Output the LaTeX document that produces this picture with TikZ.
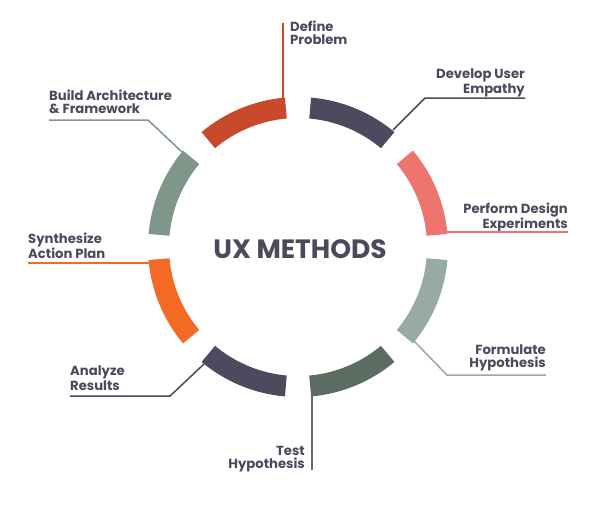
\documentclass[tikz,border=0pt]{standalone}
\usepackage{fontspec}
\setmainfont{Poppins}
\definecolor{defineC}{HTML}{C8492A}
\definecolor{slate}{HTML}{4B4A5F}
\definecolor{salmon}{HTML}{EE7470}
\definecolor{formC}{HTML}{98AAA5}
\definecolor{testC}{HTML}{5B6C62}
\definecolor{synthC}{HTML}{F26A24}
\definecolor{buildC}{HTML}{7F978B}
\definecolor{txt}{HTML}{4A4A5C}
\tikzset{
  lead/.style={draw=#1, line width=1.5pt},
  lbl/.style={inner sep=0pt, font=\bfseries\fontsize{13.2}{13}\selectfont, text=txt},
  title/.style={inner sep=0pt, font=\bfseries\fontsize{26.5}{28}\selectfont, text=txt}
}
\begin{document}
\begin{tikzpicture}[x=1pt,y=1pt]
\useasboundingbox (0,0) rectangle (609,-507);
\fill[white] (0,0) rectangle (609,-507);
\begin{scope}[shift={(298,-247)}]
\foreach \a/\b/\c in {95/130/defineC, 50/85/slate, 5/40/salmon, -40/-5/formC, -85/-50/testC, -130/-95/slate, 185/220/synthC, 140/175/buildC}
  \fill[\c] (\a:150) arc[start angle=\a, end angle=\b, radius=150] -- (\b:129) arc[start angle=\b, end angle=\a, radius=129] -- cycle;
\end{scope}
% title
\node[title] (ux) at (300,-249) {UX METHODS};
% labels
\node[lbl, anchor=north west, align=left] (tDef) at (290,-21) {Define\\Problem};
\node[lbl, anchor=north east, align=right] (tDev) at (525,-69) {Develop User\\Empathy};
\node[lbl, anchor=north east, align=right] (tPer) at (568,-203) {Perform Design\\Experiments};
\node[lbl, anchor=north east, align=right] (tFor) at (546,-345) {Formulate\\Hypothesis};
\node[lbl, anchor=north east, align=right] (tTest) at (305,-446) {Test\\Hypothesis};
\node[lbl, anchor=north west, align=left] (tAna) at (70,-366) {Analyze\\Results};
\node[lbl, anchor=north west, align=left] (tSyn) at (28,-233) {Synthesize\\Action Plan};
\node[lbl, anchor=north west, align=left] (tBld) at (49,-90) {Build Architecture\\\& Framework};
% leader coordinates
\coordinate (def0) at (283,-115); \coordinate (def1) at (283,-23);
\coordinate (dev0) at (393,-130); \coordinate (dev1) at (425,-98); \coordinate (dev2) at (525,-98);
\coordinate (per0) at (446,-232); \coordinate (per1) at (568,-232);
\coordinate (for0) at (414,-341); \coordinate (for1) at (447,-375); \coordinate (for2) at (546,-375);
\coordinate (test0) at (312,-392); \coordinate (test1) at (312,-470);
\coordinate (ana0) at (204,-364); \coordinate (ana1) at (170,-396); \coordinate (ana2) at (70,-396);
\coordinate (syn0) at (150,-263); \coordinate (syn1) at (28,-263);
\coordinate (bld0) at (183,-153); \coordinate (bld1) at (148,-120); \coordinate (bld2) at (49,-120);
\draw[lead=defineC] (def0) -- (def1);
\draw[lead=slate] (dev0) -- (dev1) -- (dev2);
\draw[lead=salmon] (per0) -- (per1);
\draw[lead=formC] (for0) -- (for1) -- (for2);
\draw[lead=testC] (test0) -- (test1);
\draw[lead=slate] (ana0) -- (ana1) -- (ana2);
\draw[lead=synthC] (syn0) -- (syn1);
\draw[lead=buildC] (bld0) -- (bld1) -- (bld2);
\end{tikzpicture}
\end{document}
